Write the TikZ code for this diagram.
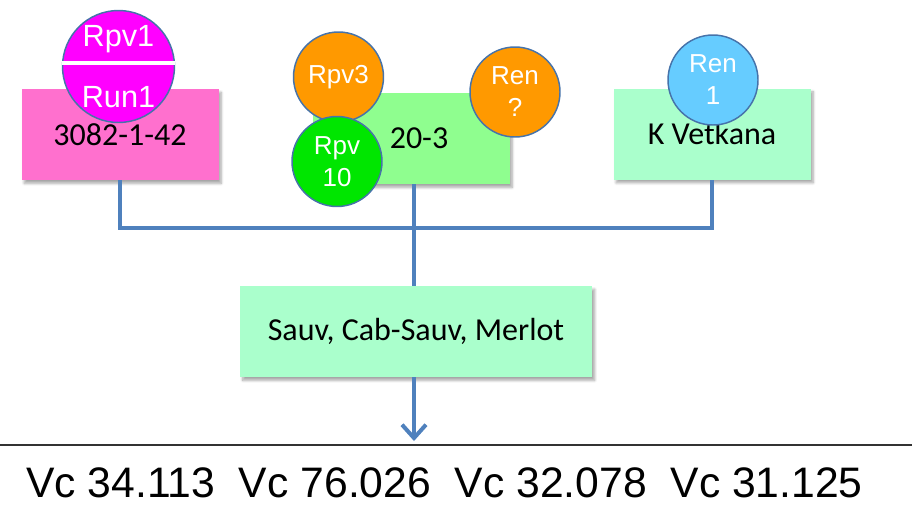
\documentclass[tikz,border=0pt]{standalone}
\usepackage{fontspec}
\setmainfont{Carlito}
\newfontfamily\arialfont{Liberation Sans}
\usetikzlibrary{arrows.meta}
\usetikzlibrary{shadows.blur}

\definecolor{linkblue}{RGB}{79,129,189}
\definecolor{rimblue}{RGB}{70,115,170}
\definecolor{pinkbox}{RGB}{255,112,206}
\definecolor{greenbox}{RGB}{143,254,143}
\definecolor{mintbox}{RGB}{170,255,204}
\definecolor{magentac}{RGB}{255,0,255}
\definecolor{orangec}{RGB}{255,153,0}
\definecolor{greenc}{RGB}{0,230,0}
\definecolor{bluec}{RGB}{102,204,255}

\begin{document}
\begin{tikzpicture}[x=0.75pt,y=-0.75pt,
        box/.style={minimum width=147.75pt,minimum height=68.25pt,inner sep=0pt,
            font=\fontsize{24}{29}\selectfont,
            blur shadow={shadow xshift=2pt,shadow yshift=-2.5pt,shadow blur steps=8,shadow opacity=35}},
        dot/.style={circle,draw=rimblue,line width=1.1pt,minimum size=67.5pt,inner sep=0pt,
            text=white,align=center,font=\arialfont\fontsize{19.5}{24}\selectfont},
        link/.style={draw=linkblue,line width=3pt}]
        \useasboundingbox (0,0) rectangle (912,515);

        % the clone boxes
        \node[box,fill=pinkbox] (clA) at (120,134.5) {3082-1-42};
        \node[box,fill=greenbox] (clB) at (411,138.5) {\hspace{12pt}20-3};
        \node[box,fill=mintbox] (clC) at (712,134) {K Vetkana};
        \node[box,fill=mintbox,minimum width=264pt] (var) at (416,331.5) {Sauv, Cab-Sauv, Merlot};

        % the resistance genes on top of the boxes
        \node[dot,fill=magentac,minimum size=84pt,font=\arialfont\fontsize{23}{46}\selectfont]
            (rpv1) at (118.5,66.5) {Rpv1\\Run1};
        \draw[white,line width=2.4pt] ([yshift=2.6pt]rpv1.west) -- ([yshift=2.6pt]rpv1.east);

        \foreach \n/\x/\y/\c/\t in {
            rpv3/338.5/77/orangec/Rpv3,
            rpv10/337/161.5/greenc/{Rpv\\10},
            renq/515/92/orangec/{Ren\\?},
            ren1/713/80/bluec/{Ren\\1}}
                \node[dot,fill=\c] (\n) at (\x,\y) {\t};

        % join the three boxes and lead down to the varieties
        \coordinate (j) at (414,228);
        \coordinate (tip) at (414,441);
        \draw[link] (clA.south) -- (clA.south |- j) -- (clC.south |- j) -- (clC.south);
        \draw[link] (clB.south -| j) -- (var.north -| j);
        \draw[link,-{Straight Barb[length=10pt,width=18pt]}] (var.south -| j) -- (tip);

        % the line and the numbers below it
        \coordinate (ruleL) at (0,445);
        \coordinate (ruleR) at (912,445);
        \draw[black!80,line width=1.1pt] (ruleL) -- (ruleR);
        \node[anchor=base west,inner sep=0pt,font=\arialfont\fontsize{32}{36}\selectfont]
            (vc) at (26,497) {Vc 34.113\ \ Vc 76.026\ \ Vc 32.078\ \ Vc 31.125};
\end{tikzpicture}
\end{document}
